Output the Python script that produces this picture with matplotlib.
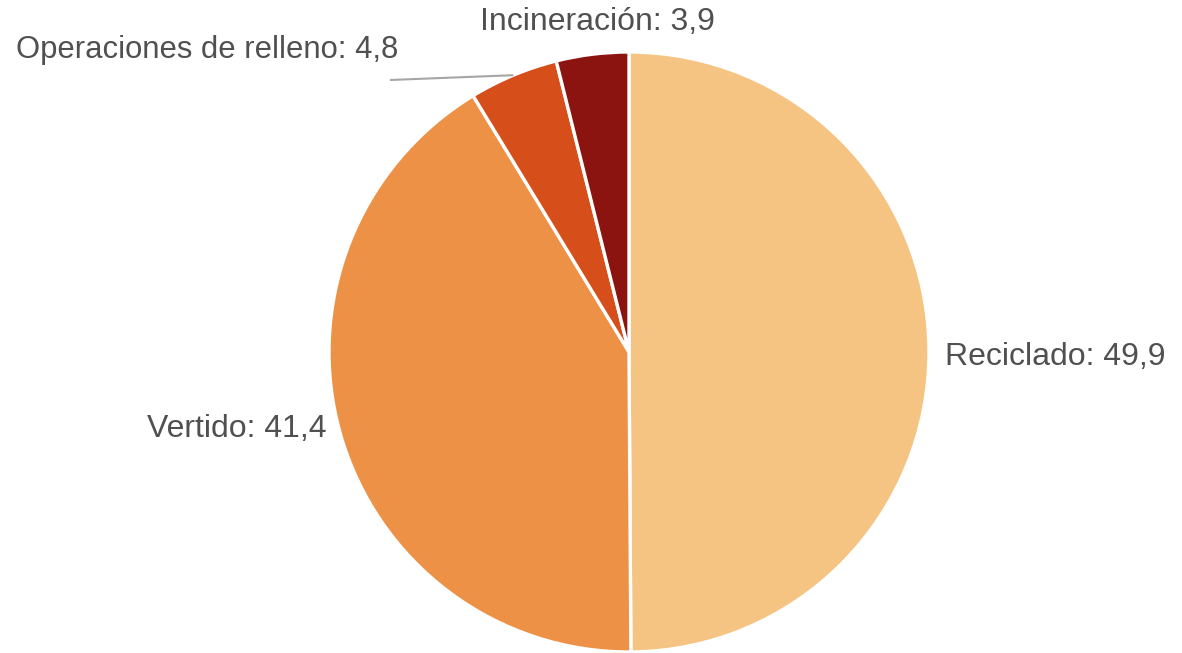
import matplotlib
matplotlib.use("Agg")
import matplotlib.pyplot as plt
import numpy as np
from matplotlib import font_manager

categories = ["Reciclado", "Vertido", "Operaciones de relleno", "Incineración"]
values = [49.9, 41.4, 4.8, 3.9]
labels = ["Reciclado: 49,9", "Vertido: 41,4", "Operaciones de relleno: 4,8", "Incineración: 3,9"]
colors = ["#F5C482", "#ED9147", "#D64E1A", "#8B1411"]

names = {f.name for f in font_manager.fontManager.ttflist}
fam = ["Liberation Sans Narrow"] if "Liberation Sans Narrow" in names else []
fam += ["Liberation Sans", "DejaVu Sans"]

W, H = 1182, 653
fig = plt.figure(figsize=(W / 100, H / 100), dpi=100)
ax = fig.add_axes([0, 0, 1, 1])

cx, cy, r = 629, H - 352, 300
wedges, _ = ax.pie(values, colors=colors, startangle=90, counterclock=False,
                   center=(cx, cy), radius=r, frame=True,
                   wedgeprops=dict(edgecolor="white", linewidth=2.4))
ax.set_xlim(0, W)
ax.set_ylim(0, H)
ax.set_aspect("equal")
ax.axis("off")

tc = "#505050"
fs = 23
ax.text(945, H - 357, labels[0], ha="left", va="center", fontsize=fs, color=tc, family=fam)
ax.text(327, H - 429, labels[1], ha="right", va="center", fontsize=fs, color=tc, family=fam)
ax.text(398, H - 50, labels[2], ha="right", va="center", fontsize=22.3, color=tc, family=fam)
ax.text(597, H - 22, labels[3], ha="center", va="center", fontsize=fs, color=tc, family=fam)

# leader line for relleno
cum = np.cumsum(values)
mid = (cum[1] + values[2] / 2) / sum(values)
ang = np.deg2rad(90 - 360 * mid)
ex, ey = cx + r * np.cos(ang), cy + r * np.sin(ang)
ax.plot([390, ex], [H - 80, ey], color="#A6A6A6", lw=1.5, solid_capstyle="butt")

fig.savefig("out.png", dpi=100, facecolor="white")
